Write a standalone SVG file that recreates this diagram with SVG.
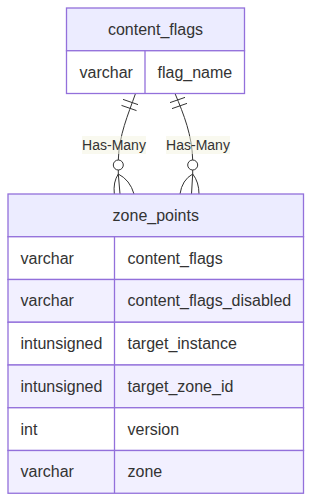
<svg xmlns="http://www.w3.org/2000/svg" width="312" height="502" viewBox="0 0 312 502">
<style>
.box{stroke:#9370DB;stroke-width:1.3}
.hdr{fill:#ECECFF}
.odd{fill:#ffffff}
.even{fill:#F2F0FF}
.div{stroke:#9370DB;stroke-width:1.3;fill:none}
text{font-family:"Liberation Sans",Arial,sans-serif;fill:#333333}
.t16{font-size:16px}
.mid{text-anchor:middle}
.edge{stroke:#333333;stroke-width:1;fill:none}
.lbl{fill:#f4f4e0;fill-opacity:0.5}
.t14{font-size:14px}
</style>
<rect width="312" height="502" fill="#ffffff"/>
<g id="connectors">
<path class="edge" d="M135.5,93.5 C128,115 119,135 118.3,160"/>
<path class="edge" d="M123,99.4 L138,104.6 M121.5,105.4 L136.5,110.6"/>
<circle class="edge" cx="118.3" cy="165" r="5" fill="#ffffff"/>
<path class="edge" d="M118.3,170 L118.3,174 M118.3,174 Q113,182 114.3,194 M118.3,174 L120,194 M118.3,174 Q130,180 134,194"/>
<path class="edge" d="M175,93.5 C184,115 192,135 192.7,160"/>
<path class="edge" d="M170,102.6 L185,97.4 M172,108.6 L187,103.4"/>
<circle class="edge" cx="192.7" cy="165" r="5" fill="#ffffff"/>
<path class="edge" d="M192.7,170 L192.7,174 M192.7,174 Q182,180 180,194 M192.7,174 L191.5,194 M192.7,174 Q199,182 199,194"/>
<rect class="lbl" x="82" y="136" width="64" height="18"/>
<text class="t14 mid" x="114" y="150">Has-Many</text>
<rect class="lbl" x="166" y="136" width="64" height="18"/>
<text class="t14 mid" x="198" y="150">Has-Many</text>
</g>
<g id="content_flags">
<rect class="box hdr" x="66.5" y="8" width="178" height="42.75"/>
<rect class="box odd" x="66.5" y="50.75" width="178" height="42.75"/>
<path class="div" d="M145,50.75 L145,93.5"/>
<text class="t16 mid" x="155.5" y="35">content_flags</text>
<text class="t16" x="79.5" y="77.5">varchar</text>
<text class="t16" x="157.5" y="77.5">flag_name</text>
</g>
<g id="zone_points">
<rect class="box hdr" x="8" y="194" width="295.5" height="42.75"/>
<rect class="box odd" x="8" y="236.75" width="295.5" height="42.75"/>
<rect class="box even" x="8" y="279.5" width="295.5" height="42.75"/>
<rect class="box odd" x="8" y="322.25" width="295.5" height="42.75"/>
<rect class="box even" x="8" y="365" width="295.5" height="42.75"/>
<rect class="box odd" x="8" y="407.75" width="295.5" height="42.75"/>
<rect class="box even" x="8" y="450.5" width="295.5" height="42.75"/>
<path class="div" d="M114.5,236.75 L114.5,493.25"/>
<text class="t16 mid" x="155.75" y="221">zone_points</text>
<text class="t16" x="20.5" y="263.5">varchar</text>
<text class="t16" x="127.5" y="263.5">content_flags</text>
<text class="t16" x="20.5" y="306.25">varchar</text>
<text class="t16" x="127.5" y="306.25">content_flags_disabled</text>
<text class="t16" x="20.5" y="349">intunsigned</text>
<text class="t16" x="127.5" y="349">target_instance</text>
<text class="t16" x="20.5" y="391.75">intunsigned</text>
<text class="t16" x="127.5" y="391.75">target_zone_id</text>
<text class="t16" x="20.5" y="434.5">int</text>
<text class="t16" x="127.5" y="434.5">version</text>
<text class="t16" x="20.5" y="477.25">varchar</text>
<text class="t16" x="127.5" y="477.25">zone</text>
</g>
</svg>
